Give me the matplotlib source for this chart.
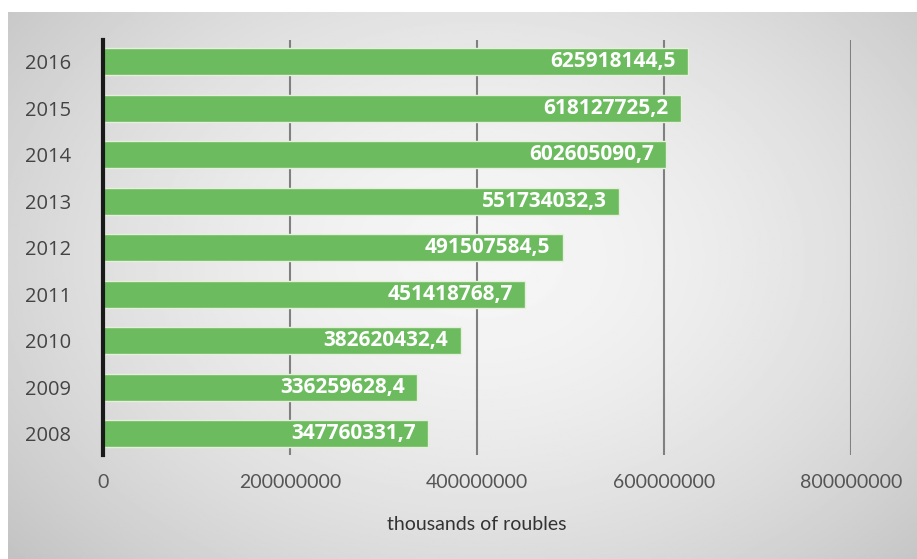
import numpy as np
import matplotlib.pyplot as plt

years = ['2008', '2009', '2010', '2011', '2012', '2013', '2014', '2015', '2016']
values = [347760331.7, 336259628.4, 382620432.4, 451418768.7, 491507584.5,
          551734032.3, 602605090.7, 618127725.2, 625918144.5]
value_labels = ['347760331,7', '336259628,4', '382620432,4', '451418768,7', '491507584,5',
                '551734032,3', '602605090,7', '618127725,2', '625918144,5']
x_ticks = [0, 200000000, 400000000, 600000000, 800000000]

fig = plt.figure(figsize=(9.17, 5.59), dpi=100)
fig.patch.set_facecolor('white')

# grey radial backdrop behind the chart
bg = fig.add_axes([8 / 917, 0.0, 1 - 8 / 917, 1 - 12 / 559])
yy, xx = np.mgrid[0:1:300j, 0:1:500j]
r = np.sqrt(((xx - 0.52) / 0.62) ** 2 + ((yy - 0.45) / 0.75) ** 2)
shade = np.clip(0.965 - 0.17 * r ** 1.6, 0.74, 1)
bg.imshow(shade, cmap='gray', vmin=0, vmax=1, aspect='auto', extent=[0, 1, 0, 1])
bg.axis('off')

ax = fig.add_axes([103 / 917, 1 - 455 / 559, 748 / 917, 415 / 559])
ax.patch.set_alpha(0)

pos = np.arange(len(years))
ax.barh(pos, values, height=0.58, color='#6cbb5f', edgecolor='#e6efd9', linewidth=1, zorder=3)

for p, v, lab in zip(pos, values, value_labels):
    ax.annotate(lab, (v, p), xytext=(-9, 0), textcoords='offset points',
                ha='right', va='center', color='white', fontsize=15,
                fontweight='bold', family='Open Sans', zorder=4)

ax.set_xlim(0, 800000000)
ax.set_ylim(-0.46, 8.47)
ax.set_xticks(x_ticks)
ax.set_xticklabels([str(t) for t in x_ticks], family='Lato', fontsize=14, color='#555555')
ax.set_yticks(pos)
ax.set_yticklabels(years, family='Open Sans', fontsize=14.5, color='#444444')
ax.tick_params(length=0)
ax.tick_params(axis='x', pad=14)
ax.tick_params(axis='y', pad=23)

ax.grid(axis='x', color='#808080', linewidth=1.5, zorder=1)
ax.set_axisbelow(True)
for s in ['top', 'right', 'bottom']:
    ax.spines[s].set_visible(False)
ax.spines['left'].set_color('#1a1a1a')
ax.spines['left'].set_linewidth(3)
ax.spines['left'].set_zorder(5)

ax.set_xlabel('thousands of roubles', family='Lato', fontsize=14, color='#333333', labelpad=18)

fig.savefig('out.png', dpi=100)
